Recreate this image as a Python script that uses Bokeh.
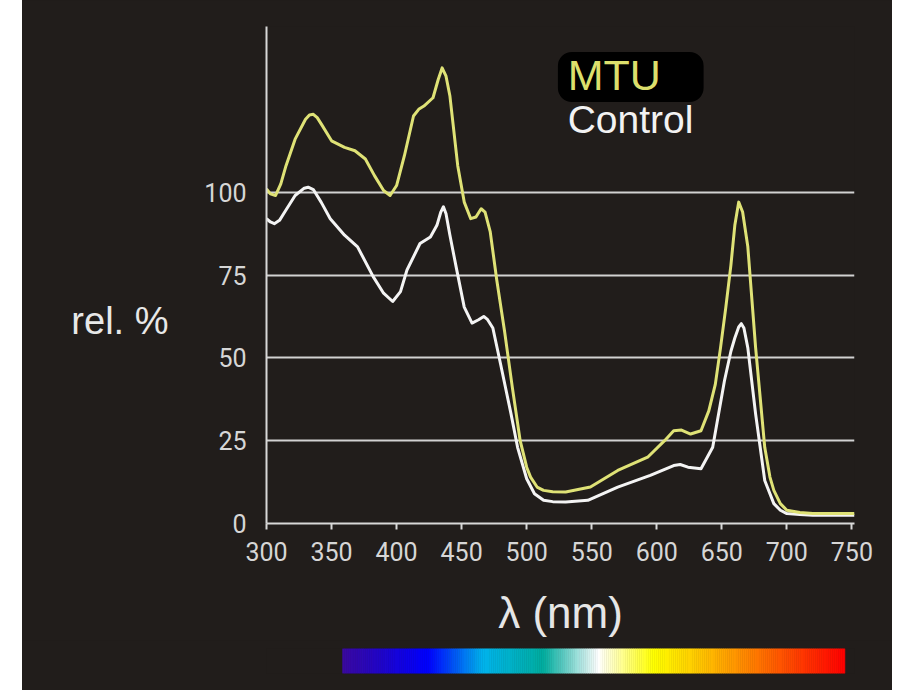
from bokeh.plotting import figure
from bokeh.models import FixedTicker, Label, BoxAnnotation, Spacer, LinearAxis
from bokeh.layouts import row, column
from bokeh.embed import file_html
from bokeh.resources import INLINE

# ---- data ----
mtu_nm = [300, 303, 307, 311, 315, 322, 330, 333, 336, 339, 343, 350, 360, 368, 376, 383,
          390, 395, 400, 406, 413, 417, 421, 428, 432, 435, 438, 441, 447, 452, 457,
          461, 465, 468, 472, 477, 483, 489, 495, 500, 503, 508, 513, 520, 530, 549,
          570, 593, 606, 613, 619, 626, 634, 640, 645, 649, 653, 657, 660, 663, 666,
          670, 676, 683, 687, 690, 695, 700, 710, 720, 752]
mtu_val = [101, 99.5, 99, 102.5, 108, 116, 122, 123.3, 123.5, 122.5, 120, 115.5, 113.5,
           112.5, 110, 105, 100.5, 99, 102, 111, 123, 125, 126, 128.5, 134, 137.5, 135,
           129, 108, 97, 92, 92.5, 95, 94, 88, 73.5, 58, 41, 25, 17, 14, 11, 10, 9.6,
           9.5, 11, 16, 20, 25, 28, 28.2, 27, 28, 34, 42, 53, 65, 78, 90, 97, 94,
           83.5, 53, 23, 14, 10, 6, 4, 3.3, 3, 3]

ctrl_nm = [300, 303, 306, 310, 314, 322, 329, 332, 336, 342, 349, 360, 370, 382, 390,
           397, 403, 408, 418, 426, 431, 434, 436, 438, 441, 446, 452, 458, 463, 467,
           470, 474, 480, 488, 493, 500, 506, 513, 520, 530, 547, 570, 595, 613, 618,
           624, 634, 643, 652, 657, 660, 663, 665, 667, 670, 676, 683, 690, 695, 700,
           710, 720, 752]
ctrl_val = [92, 91, 90.5, 91.5, 94, 99, 101.2, 101.5, 100.8, 97, 92, 87, 83.5, 74.5,
            69.5, 67, 70, 76.5, 84.5, 86.5, 90, 94, 95.6, 93.5, 87, 77, 65.3, 60.5,
            61.5, 62.5, 61.5, 59, 48, 33, 23, 13.5, 9, 7, 6.6, 6.5, 7, 11, 14.5, 17.5,
            17.8, 17, 16.5, 23, 43, 52, 56, 59.3, 60.3, 59, 53, 33, 13, 6, 4, 3,
            2.7, 2.5, 2.5]

x_ticks = [300, 350, 400, 450, 500, 550, 600, 650, 700, 750]
y_ticks = [0, 25, 50, 75, 100]

series_names = ["MTU", "Control"]
y_title = "rel. %"
x_title = "λ (nm)"

# spectrum bar colour stops (position 0..1, colour)
spec_pos = [0.0, 0.17, 0.28, 0.40, 0.51, 0.62, 0.74, 0.88, 1.0]
spec_col = ["#3b0a9e", "#0000ff", "#00b4ec", "#00ad9f", "#ffffff", "#ffff00",
            "#ffb400", "#ff5000", "#ff0000"]

BG = "#211d1b"
GRID = "#d2d2d2"
MTU_COL = "#dfe276"
CTRL_COL = "#f4f4f4"
AX_COL = "#d8d8d8"

# ---- main chart ----
p = figure(width=870, height=640, x_range=(300, 752), y_range=(0, 150),
           output_backend="svg", toolbar_location=None,
           min_border_left=244, min_border_right=38, min_border_top=26,
           min_border_bottom=117)
p.background_fill_color = BG
p.border_fill_color = BG
p.outline_line_color = None

p.xaxis.ticker = FixedTicker(ticks=x_ticks)
p.yaxis.ticker = FixedTicker(ticks=y_ticks)
for ax in (p.xaxis[0], p.yaxis[0]):
    ax.axis_line_color = AX_COL
    ax.axis_line_width = 2
    ax.major_tick_line_color = AX_COL
    ax.major_tick_line_width = 2
    ax.minor_tick_line_color = None
    ax.major_label_text_color = "#d6d6d6"
    ax.major_label_text_font = "Roboto"
    ax.major_label_text_font_size = "25px"
p.xaxis.major_tick_out = 6
p.xaxis.major_tick_in = 0
p.xaxis.major_label_standoff = 12
p.yaxis.major_tick_out = 0
p.yaxis.major_tick_in = 0
p.yaxis.major_label_standoff = 20

p.xaxis.axis_label = x_title
p.xaxis.axis_label_text_font = "Liberation Sans"
p.xaxis.axis_label_text_font_style = "normal"
p.xaxis.axis_label_text_font_size = "44px"
p.xaxis.axis_label_text_color = "#e6e6e6"
p.xaxis.axis_label_standoff = 24

# outer left axis carrying the horizontal "rel. %" title at its vertical position
title_axis = LinearAxis(ticker=FixedTicker(ticks=[61]),
                        major_label_overrides={61: y_title})
title_axis.axis_line_color = None
title_axis.major_tick_line_color = None
title_axis.minor_tick_line_color = None
title_axis.major_label_text_color = "#e8e8e8"
title_axis.major_label_text_font = "Liberation Sans"
title_axis.major_label_text_font_size = "38px"
title_axis.major_label_standoff = 27
p.add_layout(title_axis, "left")

p.xgrid.visible = False
p.ygrid.ticker = FixedTicker(ticks=y_ticks[1:])
p.ygrid.grid_line_color = GRID
p.ygrid.grid_line_width = 2

p.line(ctrl_nm, ctrl_val, line_color=CTRL_COL, line_width=3, line_join="round")
p.line(mtu_nm, mtu_val, line_color=MTU_COL, line_width=3, line_join="round")

box = BoxAnnotation(left=524, right=636, top=142.3, bottom=127.2,
                    fill_color="#000000", fill_alpha=1.0, line_color=None,
                    border_radius=14)
p.add_layout(box)
p.add_layout(Label(x=531.5, y=128.1, text=series_names[0], text_color="#dcdf6c",
                   text_font="Liberation Sans", text_font_size="43px"))
p.add_layout(Label(x=531.5, y=115.4, text=series_names[1], text_color="#f2f2f2",
                   text_font="Liberation Sans", text_font_size="39px"))

# ---- spectrum bar (same borders so the column aligns the frames) ----
def hex2rgb(h):
    h = h.lstrip("#")
    return tuple(int(h[i:i + 2], 16) for i in (0, 2, 4))

BAR_L, BAR_R = 358.5, 744.6   # horizontal extent of the bar, in nm
N = 240
lefts, rights, cols = [], [], []
for i in range(N):
    t = (i + 0.5) / N
    k = 0
    while k < len(spec_pos) - 2 and t > spec_pos[k + 1]:
        k += 1
    f = (t - spec_pos[k]) / (spec_pos[k + 1] - spec_pos[k])
    a, b = hex2rgb(spec_col[k]), hex2rgb(spec_col[k + 1])
    c = tuple(int(round(a[j] + (b[j] - a[j]) * f)) for j in range(3))
    cols.append("#%02x%02x%02x" % c)
    lefts.append(BAR_L + (BAR_R - BAR_L) * i / N)
    rights.append(BAR_L + (BAR_R - BAR_L) * (i + 1) / N)

p2 = figure(width=870, height=50, x_range=p.x_range, y_range=(0, 1),
            output_backend="svg", toolbar_location=None,
            x_axis_location=None, y_axis_location=None,
            min_border_left=244, min_border_right=38, min_border_top=8,
            min_border_bottom=17)
p2.background_fill_color = BG
p2.border_fill_color = BG
p2.outline_line_color = None
p2.grid.visible = False
p2.quad(left=lefts, right=rights, bottom=0, top=1, fill_color=cols,
        line_color=cols, line_width=0.6)

col = column(p, p2, styles={"background-color": BG})
layout = row(Spacer(width=22, height=690), col)

open("out.html", "w").write(file_html(layout, INLINE))
